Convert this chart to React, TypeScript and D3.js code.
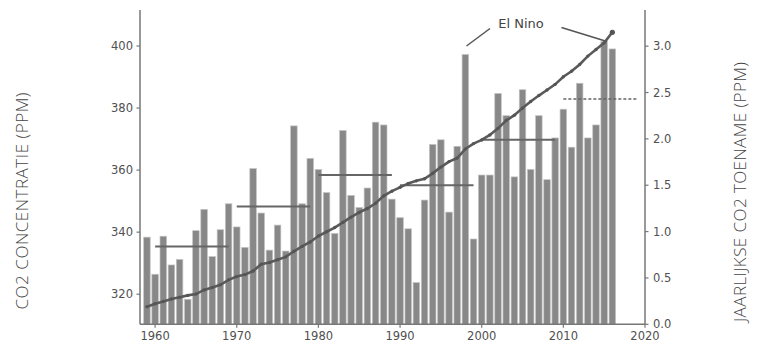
import React from 'react';
import * as d3 from 'd3';

// years and values
const years = d3.range(1959, 2017);

// annual CO2 increase (ppm/year), right axis, bars
const growth = [
  0.94, 0.54, 0.95, 0.64, 0.70, 0.27, 1.01, 1.24, 0.73, 1.02,
  1.30, 1.05, 0.83, 1.68, 1.20, 0.80, 1.07, 0.79, 2.14, 1.30,
  1.79, 1.67, 1.42, 0.98, 2.09, 1.39, 1.26, 1.47, 2.18, 2.15,
  1.35, 1.15, 1.03, 0.45, 1.34, 1.94, 1.99, 1.21, 1.92, 2.91,
  0.92, 1.61, 1.61, 2.49, 2.25, 1.59, 2.53, 1.67, 2.25, 1.56,
  2.01, 2.32, 1.91, 2.60, 2.01, 2.15, 3.05, 2.97,
];

// CO2 concentration (ppm), left axis, line
const concentration = [
  315.97, 316.91, 317.64, 318.45, 318.99, 319.62, 320.04, 321.38, 322.16, 323.04,
  324.62, 325.68, 326.32, 327.46, 329.68, 330.19, 331.12, 332.03, 333.84, 335.41,
  336.84, 338.76, 340.12, 341.48, 343.15, 344.85, 346.35, 347.61, 349.31, 351.69,
  353.2, 354.45, 355.7, 356.54, 357.21, 358.96, 360.97, 362.74, 363.88, 366.84,
  368.54, 369.71, 371.32, 373.45, 375.98, 377.7, 379.98, 382.09, 384.02, 385.83,
  387.64, 390.1, 391.85, 394.06, 396.74, 398.87, 401.01, 404.41,
];

// decade averages of the annual increase
const decadeStart = [1960, 1970, 1980, 1990, 2000, 2010];
const decadeEnd = [1969, 1979, 1989, 1999, 2009, 2019];
const decadeMean = [0.84, 1.27, 1.61, 1.5, 1.99, 2.43];

const xTicks = [1960, 1970, 1980, 1990, 2000, 2010, 2020];
const leftTicks = [320, 340, 360, 380, 400];
const rightTicks = [0, 0.5, 1, 1.5, 2, 2.5, 3];

const W = 773;
const H = 349;
const left = 140;
const right = 645;
const top = 10;
const bottom = 324.3;

const axisColor = '#777';
const textColor = '#505050';
const tickFont = 'DejaVu Sans, sans-serif';

export default function App() {
  const x = d3.scaleLinear().domain([1958.15, 2020]).range([left, right]);
  const yL = d3.scaleLinear().domain([310.3, 411.6]).range([bottom, top]);
  const yR = d3.scaleLinear().domain([0, 3.39]).range([bottom, top]);

  const barW = (x(1960) - x(1959)) * 0.8;

  const line = d3.line<number>()
    .x((d, i) => x(years[i]))
    .y(d => yL(d));

  return (
    <svg width={W} height={H} style={{ position: 'absolute', left: 0, top: 0, background: '#fff' }}>
      {/* bars */}
      <g>
        {growth.map((v, i) => (
          <rect
            key={years[i]}
            x={x(years[i]) - barW / 2}
            y={yR(v)}
            width={barW}
            height={bottom - yR(v)}
            fill="#888"
            stroke="#c4c4c4"
            strokeWidth={0.7}
          />
        ))}
      </g>

      {/* decade averages */}
      <g>
        {decadeMean.map((m, i) => (
          <line
            key={decadeStart[i]}
            x1={x(decadeStart[i])}
            x2={x(decadeEnd[i])}
            y1={yR(m)}
            y2={yR(m)}
            stroke="#666"
            strokeWidth={i === 5 ? 1.5 : 2}
            strokeDasharray={i === 5 ? '3,2' : undefined}
          />
        ))}
      </g>

      {/* concentration line */}
      <path d={line(concentration) ?? ''} fill="none" stroke="#5a5a5a" strokeWidth={2.6} />
      <g>
        {concentration.map((v, i) => (
          <circle key={years[i]} cx={x(years[i])} cy={yL(v)} r={1.7} fill="#555" />
        ))}
        <circle cx={x(2016)} cy={yL(404.41)} r={2.6} fill="#555" />
      </g>

      {/* El Nino annotation */}
      <g stroke="#555" strokeWidth={1.5}>
        <line x1={466.5} y1={46} x2={490} y2={28.5} />
        <line x1={561.5} y1={27.5} x2={607} y2={41.5} />
      </g>
      <text x={521} y={28} textAnchor="middle" fontFamily={tickFont} fontSize={13} fill="#444">
        El Nino
      </text>

      {/* spines */}
      <g stroke={axisColor} strokeWidth={1.5} fill="none">
        <line x1={left} x2={left} y1={top} y2={bottom} />
        <line x1={right} x2={right} y1={top} y2={bottom} />
        <line x1={left} x2={right} y1={bottom} y2={bottom} />
      </g>

      {/* x axis */}
      <g>
        {xTicks.map(t => (
          <g key={t} transform={`translate(${x(t)},${bottom})`}>
            <line y1={0} y2={3.5} stroke={axisColor} strokeWidth={1.2} />
            <text y={16} textAnchor="middle" fontFamily={tickFont} fontSize={11.5} fill={textColor}>
              {t}
            </text>
          </g>
        ))}
      </g>

      {/* left axis */}
      <g>
        {leftTicks.map(t => (
          <g key={t} transform={`translate(${left},${yL(t)})`}>
            <line x1={0} x2={-3.5} stroke={axisColor} strokeWidth={1.2} />
            <text x={-7} dy="0.35em" textAnchor="end" fontFamily={tickFont} fontSize={11.5} fill={textColor}>
              {t}
            </text>
          </g>
        ))}
      </g>

      {/* right axis */}
      <g>
        {rightTicks.map(t => (
          <g key={t} transform={`translate(${right},${yR(t)})`}>
            <line x1={0} x2={3.5} stroke={axisColor} strokeWidth={1.2} />
            <text x={8} dy="0.35em" textAnchor="start" fontFamily={tickFont} fontSize={11.5} fill={textColor}>
              {d3.format('.1f')(t)}
            </text>
          </g>
        ))}
      </g>

      {/* axis titles */}
      <text
        transform="translate(22,201) rotate(-90)"
        textAnchor="middle"
        dy="0.35em"
        fontFamily="Open Sans, sans-serif"
        fontWeight={300}
        fontSize={17}
        textLength={217}
        lengthAdjust="spacing"
        fill="#444"
      >
        CO2 CONCENTRATIE (PPM)
      </text>
      <text
        transform="translate(740,192) rotate(-90)"
        textAnchor="middle"
        dy="0.35em"
        fontFamily="Open Sans, sans-serif"
        fontWeight={300}
        fontSize={17}
        textLength={260}
        lengthAdjust="spacing"
        fill="#444"
      >
        JAARLIJKSE CO2 TOENAME (PPM)
      </text>
    </svg>
  );
}
